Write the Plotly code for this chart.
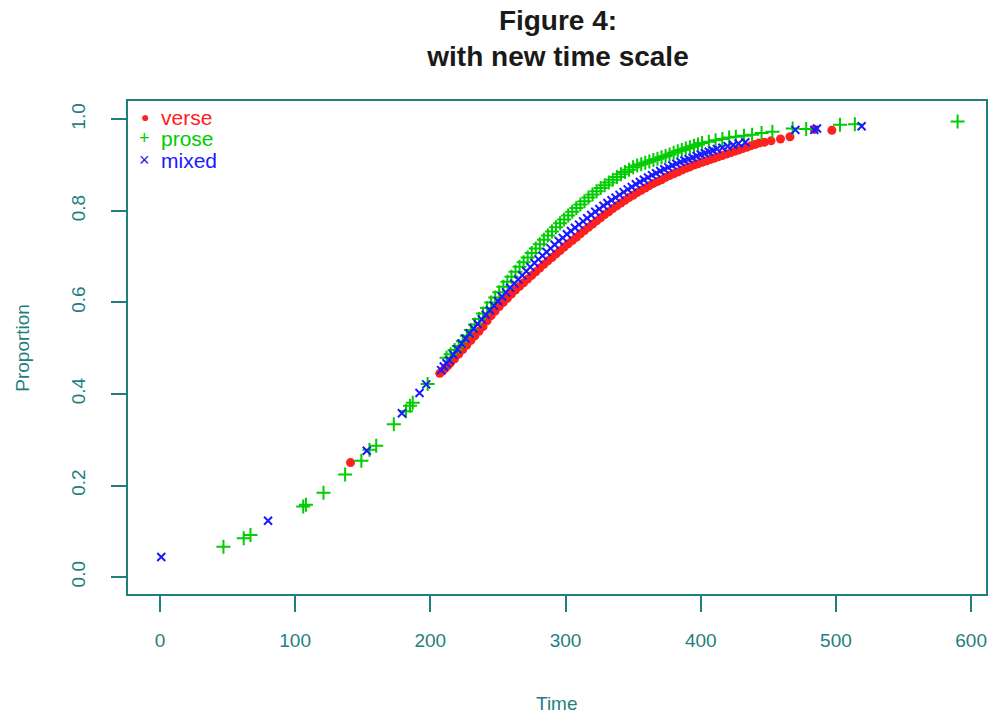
import plotly.graph_objects as go

# ---- data ----
verse_time = [141, 207, 209, 211, 213, 215, 218, 221, 224, 227, 230, 233, 236, 239, 242,
              245, 248, 251, 254, 257, 260, 263, 266, 269, 272, 275, 278, 281, 284, 287,
              290, 293, 296, 299, 302, 305, 308, 311, 314, 317, 320, 323, 326, 329, 332,
              335, 338, 341, 344, 347, 350, 353, 356, 359, 362, 365, 368, 371, 374, 377,
              380, 383, 386, 389, 392, 395, 398, 401, 404, 407, 410, 413, 416, 419, 422,
              425, 428, 431, 434, 437, 440, 443, 447, 452, 459, 466, 484, 497]
verse_prop = [0.250, 0.445, 0.450, 0.456, 0.462, 0.468, 0.477, 0.487, 0.497, 0.507, 0.517,
              0.527, 0.537, 0.547, 0.560, 0.571, 0.581, 0.591, 0.600, 0.609, 0.618, 0.627,
              0.635, 0.643, 0.651, 0.659, 0.667, 0.675, 0.683, 0.691, 0.698, 0.706, 0.713,
              0.721, 0.728, 0.735, 0.742, 0.750, 0.757, 0.764, 0.771, 0.778, 0.785, 0.792,
              0.798, 0.805, 0.811, 0.817, 0.823, 0.829, 0.834, 0.840, 0.845, 0.850, 0.855,
              0.860, 0.864, 0.868, 0.873, 0.877, 0.881, 0.885, 0.889, 0.893, 0.896, 0.900,
              0.903, 0.906, 0.909, 0.912, 0.915, 0.918, 0.921, 0.924, 0.927, 0.930, 0.933,
              0.936, 0.939, 0.942, 0.945, 0.948, 0.950, 0.953, 0.957, 0.962, 0.978, 0.976]

prose_time = [47, 62, 67, 106, 108, 121, 137, 149, 155, 160, 173, 182, 185, 187, 198, 212,
              215, 218, 221, 224, 227, 230, 233, 236, 239, 242, 245, 248, 251, 254, 257, 260,
              263, 266, 269, 272, 275, 278, 281, 284, 287, 290, 293, 296, 299, 302, 305, 308,
              311, 314, 317, 320, 323, 326, 329, 332, 335, 338, 341, 344, 347, 350, 353, 356,
              359, 362, 365, 368, 371, 374, 377, 380, 383, 386, 389, 392, 395, 398, 401, 406,
              411, 416, 421, 426, 432, 438, 445, 453, 468, 478, 503, 514, 590]
prose_prop = [0.066, 0.085, 0.092, 0.154, 0.158, 0.184, 0.224, 0.254, 0.278, 0.287, 0.334,
              0.362, 0.374, 0.381, 0.422, 0.479, 0.487, 0.496, 0.505, 0.515, 0.527, 0.540,
              0.552, 0.564, 0.576, 0.588, 0.600, 0.611, 0.622, 0.634, 0.645, 0.656, 0.667,
              0.678, 0.688, 0.698, 0.708, 0.718, 0.727, 0.737, 0.746, 0.755, 0.764, 0.773,
              0.781, 0.790, 0.798, 0.806, 0.814, 0.821, 0.829, 0.836, 0.843, 0.850, 0.856,
              0.862, 0.868, 0.874, 0.880, 0.885, 0.890, 0.895, 0.899, 0.902, 0.905, 0.908,
              0.911, 0.914, 0.917, 0.920, 0.923, 0.927, 0.930, 0.933, 0.936, 0.939, 0.942,
              0.945, 0.948, 0.951, 0.954, 0.957, 0.960, 0.962, 0.964, 0.966, 0.970, 0.973,
              0.980, 0.979, 0.988, 0.989, 0.995]

mixed_time = [1, 80, 153, 179, 192, 197, 208, 210, 212, 214, 217, 220, 223, 226, 229, 232,
              235, 238, 241, 244, 247, 250, 253, 256, 259, 262, 265, 268, 271, 274, 277, 280,
              283, 286, 289, 292, 295, 298, 301, 304, 307, 310, 313, 316, 319, 322, 325, 328,
              331, 334, 337, 340, 343, 346, 349, 352, 355, 358, 361, 364, 367, 370, 373, 376,
              379, 382, 385, 388, 391, 394, 397, 400, 403, 406, 409, 412, 416, 420, 424, 428,
              433, 470, 484, 486, 519]
mixed_prop = [0.044, 0.123, 0.276, 0.358, 0.402, 0.421, 0.452, 0.460, 0.467, 0.474, 0.486,
              0.498, 0.510, 0.521, 0.532, 0.543, 0.553, 0.563, 0.573, 0.583, 0.593, 0.603,
              0.613, 0.622, 0.632, 0.641, 0.650, 0.659, 0.668, 0.677, 0.686, 0.694, 0.702,
              0.710, 0.718, 0.726, 0.734, 0.741, 0.749, 0.756, 0.763, 0.770, 0.777, 0.784,
              0.791, 0.798, 0.804, 0.811, 0.817, 0.823, 0.829, 0.835, 0.841, 0.847, 0.852,
              0.858, 0.863, 0.868, 0.873, 0.878, 0.882, 0.887, 0.891, 0.895, 0.899, 0.903,
              0.907, 0.910, 0.913, 0.916, 0.920, 0.923, 0.926, 0.929, 0.932, 0.935, 0.938,
              0.941, 0.944, 0.947, 0.950, 0.977, 0.977, 0.980, 0.985]

x_ticks = [0, 100, 200, 300, 400, 500, 600]
y_ticks = [0.0, 0.2, 0.4, 0.6, 0.8, 1.0]
y_tick_labels = ["0.0", "0.2", "0.4", "0.6", "0.8", "1.0"]

series_names = ["verse", "prose", "mixed"]
series_colors = ["#ff2020", "#00cc00", "#1a1aff"]
legend_glyphs = ["\u25CF", "+", "\u00D7"]

AX = "#1f7f7f"
FONT = "Liberation Sans, Arial, sans-serif"

W, H = 994, 717
ML, MR, MT, MB = 128, 6, 101, 123
PW, PH = W - ML - MR, H - MT - MB

fig = go.Figure()
fig.add_trace(go.Scatter(
    x=verse_time, y=verse_prop, mode="markers", name=series_names[0],
    marker=dict(symbol="circle", size=9, color=series_colors[0], line=dict(width=0))))
fig.add_trace(go.Scatter(
    x=prose_time, y=prose_prop, mode="markers", name=series_names[1],
    marker=dict(symbol="cross-thin", size=10, color=series_colors[1],
                line=dict(width=2, color=series_colors[1]))))
fig.add_trace(go.Scatter(
    x=mixed_time, y=mixed_prop, mode="markers", name=series_names[2],
    marker=dict(symbol="x-thin", size=8, color=series_colors[2],
                line=dict(width=2, color=series_colors[2]))))

annotations = [
    dict(text="Time", xref="paper", yref="paper", x=0.5, y=(H - MB - 703) / PH,
         xanchor="center", yanchor="middle", showarrow=False,
         font=dict(size=19, color=AX)),
    dict(text="Proportion", xref="paper", yref="paper", x=(22 - ML) / PW, y=0.5,
         xanchor="center", yanchor="middle", textangle=-90, showarrow=False,
         font=dict(size=19, color=AX)),
]
# manual legend (R style, tight rows) in the top-left corner of the plot box
legend_rows_px = [117, 138, 160]
for name, col, glyph, py in zip(series_names, series_colors, legend_glyphs, legend_rows_px):
    yp = (H - MB - py) / PH
    annotations.append(dict(text=glyph, xref="paper", yref="paper", x=(145 - ML) / PW, y=yp,
                            xanchor="center", yanchor="middle", showarrow=False,
                            font=dict(size=14 if glyph == "\u25CF" else 18, color=col)))
    annotations.append(dict(text=name, xref="paper", yref="paper", x=(159 - ML) / PW, y=yp,
                            xanchor="left", yanchor="middle", showarrow=False,
                            font=dict(size=21, color=col)))

fig.update_layout(
    width=W, height=H,
    paper_bgcolor="white", plot_bgcolor="white",
    margin=dict(l=ML, r=MR, t=MT, b=MB),
    font=dict(family=FONT, color=AX, size=19),
    title=dict(text="Figure 4:<br>with new time scale", x=(ML + PW / 2) / W, xanchor="center",
               yref="container", y=1 - 30 / H, yanchor="middle",
               font=dict(family=FONT, size=28, color="#1a1a1a", weight="bold")),
    showlegend=False,
    xaxis=dict(range=[-23.6, 611], tickvals=x_ticks, showgrid=False, zeroline=False,
               showline=True, mirror=True, linecolor=AX, linewidth=2,
               ticks="outside", ticklen=16, tickwidth=2, tickcolor=AX,
               ticklabelstandoff=12, tickfont=dict(size=19, color=AX)),
    yaxis=dict(range=[-0.037, 1.04], tickvals=y_ticks, ticktext=y_tick_labels,
               showgrid=False, zeroline=False, tickangle=-90,
               showline=True, mirror=True, linecolor=AX, linewidth=2,
               ticks="outside", ticklen=15, tickwidth=2, tickcolor=AX,
               ticklabelstandoff=18, tickfont=dict(size=19, color=AX)),
    annotations=annotations,
)

fig.write_html("out.html", config={"displayModeBar": False},
               post_script="document.body.style.margin='0px';")
